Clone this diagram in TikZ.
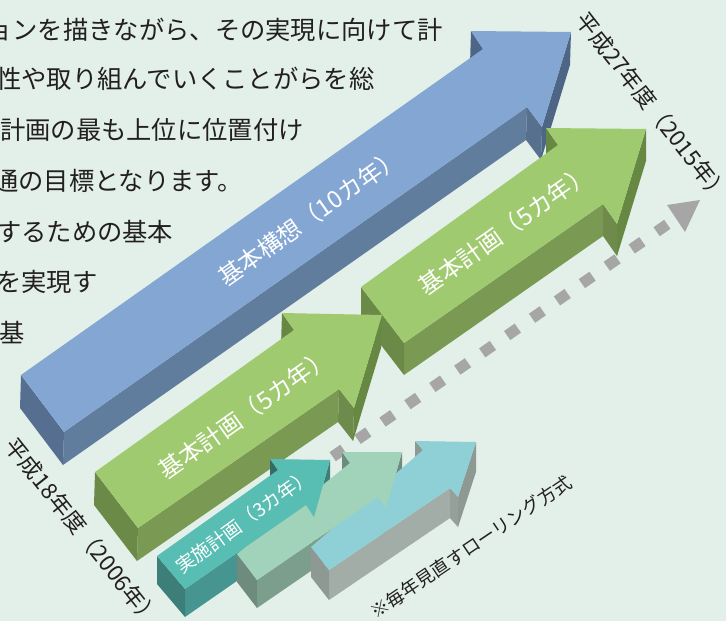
\documentclass[tikz,border=0pt]{standalone}
\usepackage{fontspec}
\newfontfamily\jp{Noto Sans CJK JP}
\definecolor{bg}{HTML}{E2F0E9}
\definecolor{txt}{HTML}{231F20}
\definecolor{bluetop}{HTML}{84A6D3}
\definecolor{blueside}{HTML}{617D9E}
\definecolor{blueend}{HTML}{566F90}
\definecolor{bluedark}{HTML}{4E6686}
\definecolor{greentop}{HTML}{A0CA6F}
\definecolor{greenside}{HTML}{7A9A54}
\definecolor{greenend}{HTML}{6B8A47}
\definecolor{greendark}{HTML}{678842}
\definecolor{tealtop}{HTML}{58BDB3}
\definecolor{tealside}{HTML}{479590}
\definecolor{tealend}{HTML}{3E7E78}
\definecolor{minttop}{HTML}{A0D3BA}
\definecolor{mintside}{HTML}{7C9F8D}
\definecolor{mintend}{HTML}{6E8B7D}
\definecolor{cyantop}{HTML}{8FCFD6}
\definecolor{cyanside}{HTML}{A2ADA8}
\definecolor{cyanend}{HTML}{8E9994}
\definecolor{dashgray}{HTML}{A6A6A6}
\begin{document}
\begin{tikzpicture}[x=1pt,y=-1pt,
  para/.style={anchor=west, inner sep=0pt, text=txt, font=\jp\fontsize{25.3}{30}\selectfont},
  paraR/.style={anchor=east, inner sep=0pt, text=txt, font=\jp\fontsize{25.3}{30}\selectfont},
  biglabel/.style={inner sep=0pt, text=white, font=\jp\fontsize{24}{28}\selectfont},
  smalllabel/.style={inner sep=0pt, text=white, font=\jp\fontsize{19}{23}\selectfont},
  yearlabel/.style={inner sep=0pt, text=txt, font=\jp\fontsize{22.5}{26}\selectfont},
  notelabel/.style={inner sep=0pt, text=txt, font=\jp\fontsize{18.3}{22}\selectfont},
  dashline/.style={draw=dashgray, line width=11pt, dash pattern=on 13pt off 17.34pt},
  dashhead/.style={fill=dashgray}
]
\useasboundingbox (0,0) rectangle (726,621);
\fill[bg] (0,0) rectangle (726,621);
\begin{scope}
\clip (0,0) rectangle (726,621);

% paragraph text (cut at the left edge)
\node[paraR] (l1) at (443,30) {ョンを描きながら、その実現に向けて計};
\node[para] (l2) at (-4,79) {性や取り組んでいくことがらを総};
\node[para] (l3) at (0,130) {計画の最も上位に位置付け};
\node[para] (l4) at (-7,181) {通の目標となります。};
\node[para] (l5) at (-4,232) {するための基本};
\node[para] (l6) at (-4,282) {を実現す};
\node[para] (l7) at (-1,333) {基};

% ---------------- blue arrow ----------------
\fill[bluedark] (483,49) -- (471,31) -- (470,64) -- (482,82) -- cycle;
\fill[blueside] (64,432) -- (527,107) -- (526,140) -- (63,465) -- cycle;
\fill[blueside!90!black] (527,107) -- (542,127) -- (541,160) -- (526,140) -- cycle;
\fill[bluedark] (542,127) -- (571,32) -- (570,65) -- (541,160) -- cycle;
\fill[blueend] (21,375) -- (64,432) -- (63,465) -- (20,408) -- cycle;
\fill[bluetop] (21,375) -- (483,49) -- (471,31) -- (571,32) -- (542,127) -- (527,107) -- (64,432) -- cycle;
\node[biglabel, rotate=35.3] (tblue) at (310,217) {基本構想（10カ年）};

% ---------------- green arrow (second) ----------------
\fill[greendark] (558,145) -- (546,128) -- (546,160) -- (558,177) -- cycle;
\fill[greenside] (404,343) -- (603,204) -- (603,236) -- (404,375) -- cycle;
\fill[greenside!90!black] (603,204) -- (617,224) -- (617,256) -- (603,236) -- cycle;
\fill[greendark] (617,224) -- (646,129) -- (646,161) -- (617,256) -- cycle;
\fill[greenend] (361,287) -- (404,343) -- (404,375) -- (361,319) -- cycle;
\fill[greentop] (361,287) -- (558,145) -- (546,128) -- (646,129) -- (617,224) -- (603,204) -- (404,343) -- cycle;
\node[biglabel, rotate=35.3] (tgreen2) at (505,230) {基本計画（5カ年）};

% ---------------- green arrow (first) ----------------
\fill[greendark] (294,330) -- (282,313) -- (281,346) -- (293,363) -- cycle;
\fill[greenside] (138,528) -- (339,389) -- (338,422) -- (137,561) -- cycle;
\fill[greenside!90!black] (339,389) -- (354,408) -- (353,441) -- (338,422) -- cycle;
\fill[greendark] (354,408) -- (382,315) -- (381,348) -- (353,441) -- cycle;
\fill[greenend] (95,472) -- (138,528) -- (137,561) -- (94,505) -- cycle;
\fill[greentop] (95,472) -- (294,330) -- (282,313) -- (382,315) -- (354,408) -- (339,389) -- (138,528) -- cycle;
\node[biglabel, rotate=35.3] (tgreen1) at (245,414) {基本計画（5カ年）};

% ---------------- dashed arrow ----------------
\coordinate (ds) at (332.7,456.7);
\coordinate (de) at (667.3,224.3);
\draw[dashline] (ds) -- (de);
\fill[dashhead] (667,205) -- (700,200) -- (685,232) -- cycle;

% ---------------- small arrows: side faces ----------------
% teal
\fill[tealend!85!black] (278,470) -- (270,459) -- (270,487) -- (278,498) -- cycle;
\fill[tealside] (185,589) -- (306,505) -- (306,533) -- (185,617) -- cycle;
\fill[tealside] (306,505) -- (314,517) -- (314,545) -- (306,533) -- cycle;
\fill[tealend] (314,517) -- (330,460) -- (330,488) -- (314,545) -- cycle;
\fill[tealend] (157,556) -- (185,589) -- (185,617) -- (157,584) -- cycle;
% mint
\fill[mintend] (350,463) -- (342,452) -- (342,480) -- (350,491) -- cycle;
\fill[mintside] (257,580) -- (378,497) -- (378,525) -- (257,608) -- cycle;
\fill[mintside] (378,497) -- (386,508) -- (386,536) -- (378,525) -- cycle;
\fill[mintend] (386,508) -- (402,452) -- (402,480) -- (386,536) -- cycle;
\fill[mintend] (237,554) -- (257,580) -- (257,608) -- (237,582) -- cycle;
% cyan
\fill[cyanend] (423,450) -- (415,441) -- (415,471) -- (423,480) -- cycle;
\fill[cyanside] (329,570) -- (450,488) -- (450,518) -- (329,600) -- cycle;
\fill[cyanside!92!black] (450,488) -- (458,497) -- (458,527) -- (450,518) -- cycle;
\fill[cyanend] (458,497) -- (476,442) -- (476,472) -- (458,527) -- cycle;
\fill[cyanend] (311,547) -- (329,570) -- (329,600) -- (311,577) -- cycle;
% top faces
\fill[cyantop] (311,547) -- (423,450) -- (415,441) -- (476,442) -- (458,497) -- (450,488) -- (329,570) -- cycle;
\fill[minttop] (237,554) -- (350,463) -- (342,452) -- (402,452) -- (386,508) -- (378,497) -- (257,580) -- cycle;
\fill[tealtop] (157,556) -- (278,470) -- (270,459) -- (330,460) -- (314,517) -- (306,505) -- (185,589) -- cycle;
\node[smalllabel, rotate=36] (tteal) at (244,521) {実施計画（3カ年）};

% ---------------- labels ----------------
\node[yearlabel, rotate=-51.5] (y2006) at (83,532) {平成18年度（2006年）};
\node[yearlabel, rotate=-52] (y2015) at (653,107) {平成27年度（2015年）};
\node[notelabel, rotate=34] (note) at (471,547) {※毎年見直すローリング方式};
\end{scope}
\end{tikzpicture}
\end{document}
